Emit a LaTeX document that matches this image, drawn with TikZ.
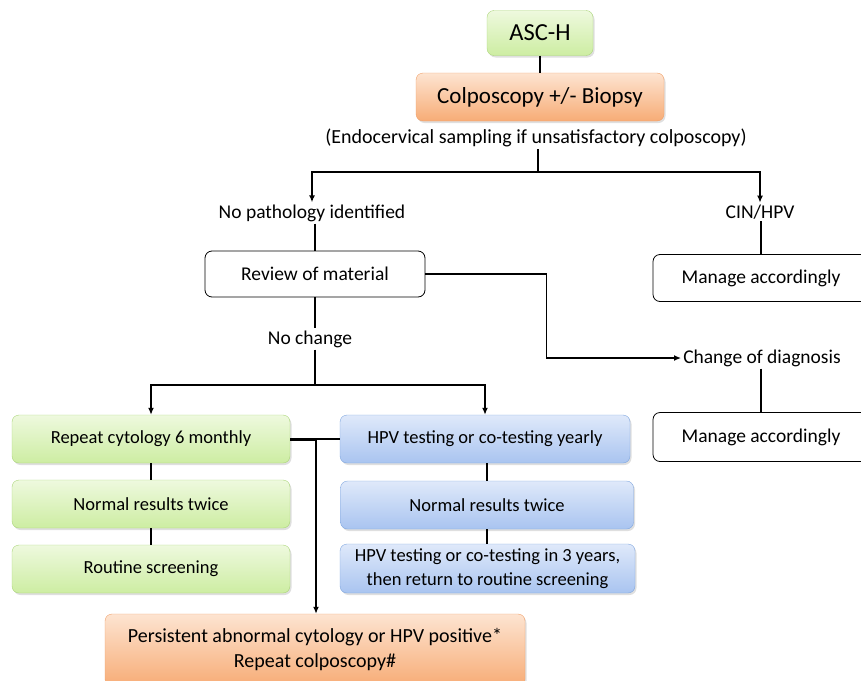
\documentclass[tikz,border=0pt]{standalone}
\usepackage{fontspec}
\setmainfont{Carlito}
\usetikzlibrary{arrows.meta,positioning,shadows}
\definecolor{grtop}{HTML}{EEF9DE}
\definecolor{grbot}{HTML}{CDEDA2}
\definecolor{grline}{HTML}{ABD57A}
\definecolor{ortop}{HTML}{FDE4D1}
\definecolor{orbot}{HTML}{F7AC76}
\definecolor{orline}{HTML}{F0A06A}
\definecolor{bltop}{HTML}{DFE9FA}
\definecolor{blbot}{HTML}{A9C4F0}
\definecolor{blline}{HTML}{7FA6DF}

\begin{document}
\begin{tikzpicture}[
  x=1pt, y=1pt,
  cbox/.style={rounded corners=7pt, align=center, inner sep=3pt,
    drop shadow={opacity=0.25, shadow xshift=1.5pt, shadow yshift=-2pt}},
  greenbox/.style={cbox, draw=grline, top color=grtop, bottom color=grbot},
  orangebox/.style={cbox, draw=orline, top color=ortop, bottom color=orbot},
  bluebox/.style={cbox, draw=blline, top color=bltop, bottom color=blbot},
  plainbox/.style={draw, rounded corners=7pt, fill=white, align=center, inner sep=3pt, line width=0.8pt,
    font=\fontsize{19.5}{23}\selectfont},
  lbl/.style={align=center, inner sep=2pt, font=\fontsize{19.5}{23}\selectfont},
  small/.style={font=\fontsize{18.5}{24}\selectfont},
  ln/.style={line width=1.8pt},
  arr/.style={ln, -{Latex[length=7pt,width=6pt]}}
]
\useasboundingbox (0,0) rectangle (861,-680);

% top of the chart
\node[greenbox, minimum width=106, minimum height=45, font=\fontsize{24.5}{28}\selectfont] (asch) at (540,-33) {ASC-H};
\node[orangebox, minimum width=248, minimum height=48, font=\fontsize{23}{27}\selectfont] (colpo) at (540,-97) {Colposcopy +/- Biopsy};
\node[lbl, font=\fontsize{20}{23}\selectfont] (endo) at (536,-138) {(Endocervical sampling if unsatisfactory colposcopy)};
\coordinate (s1) at (538,-172);

% first split
\node[lbl] (nopath) at (312,-213) {No pathology identified};
\node[lbl] (cin) at (760,-212) {CIN/HPV};
\node[plainbox, minimum width=220, minimum height=46] (review) at (315,-274) {Review of material};
\node[plainbox, minimum width=216, minimum height=47] (manage1) at (761,-278) {Manage accordingly};
\node[lbl] (nochange) at (310,-339) {No change};
\node[lbl] (change) at (762,-358) {Change of diagnosis};
\node[plainbox, minimum width=216, minimum height=49] (manage2) at (761,-437) {Manage accordingly};
\coordinate (s2) at (315,-385);

% follow-up columns
\node[greenbox, small, minimum width=278, minimum height=48] (rep) at (151,-439) {Repeat cytology 6 monthly};
\node[greenbox, small, minimum width=278, minimum height=48] (norm1) at (151,-504) {Normal results twice};
\node[greenbox, small, minimum width=278, minimum height=48] (routine) at (151,-569) {Routine screening};
\node[bluebox, small, minimum width=290, minimum height=48] (hpv) at (485,-439) {HPV testing or co-testing yearly};
\node[bluebox, small, minimum width=293, minimum height=48] (norm2) at (487,-505) {Normal results twice};
\node[bluebox, small, minimum width=295, minimum height=49] (hpv3) at (487.5,-568.5) {HPV testing or co-testing in 3 years,\\then return to routine screening};
\node[orangebox, font=\fontsize{20}{25}\selectfont, minimum width=420, minimum height=72] (persist) at (315,-650) {Persistent abnormal cytology or HPV positive*\\Repeat colposcopy\#};
\coordinate (s3) at (316,-439);

% connectors
\draw[ln] (asch) -- (colpo);
\draw[ln] (endo.south -| s1) -- (s1);
\draw[arr] (s1) -| (nopath.north);
\draw[arr] (s1) -| (cin.north);
\draw[ln] (nopath.south -| review) -- (review);
\draw[ln] (cin.south -| manage1) -- (manage1);
\draw[arr] (review.east) -- ++(121,0) |- (change.west);
\draw[ln] (review) -- (nochange.north -| review);
\draw[ln] (change.south -| manage2) -- (manage2);
\draw[ln] (nochange.south -| s2) -- (s2);
\draw[arr] (s2) -| (rep.north);
\draw[arr] (s2) -| (hpv.north);
\draw[ln] (rep) -- (norm1);
\draw[ln] (norm1) -- (routine);
\draw[ln] (hpv.south -| norm2) -- (norm2);
\draw[ln] (norm2) -- (hpv3.north -| norm2);
\draw[ln] (s3) -- (hpv.west);
\draw[line width=3pt] (rep.east) -- (s3);
\draw[arr] (s3) -- (s3 |- persist.north);
\end{tikzpicture}
\end{document}
